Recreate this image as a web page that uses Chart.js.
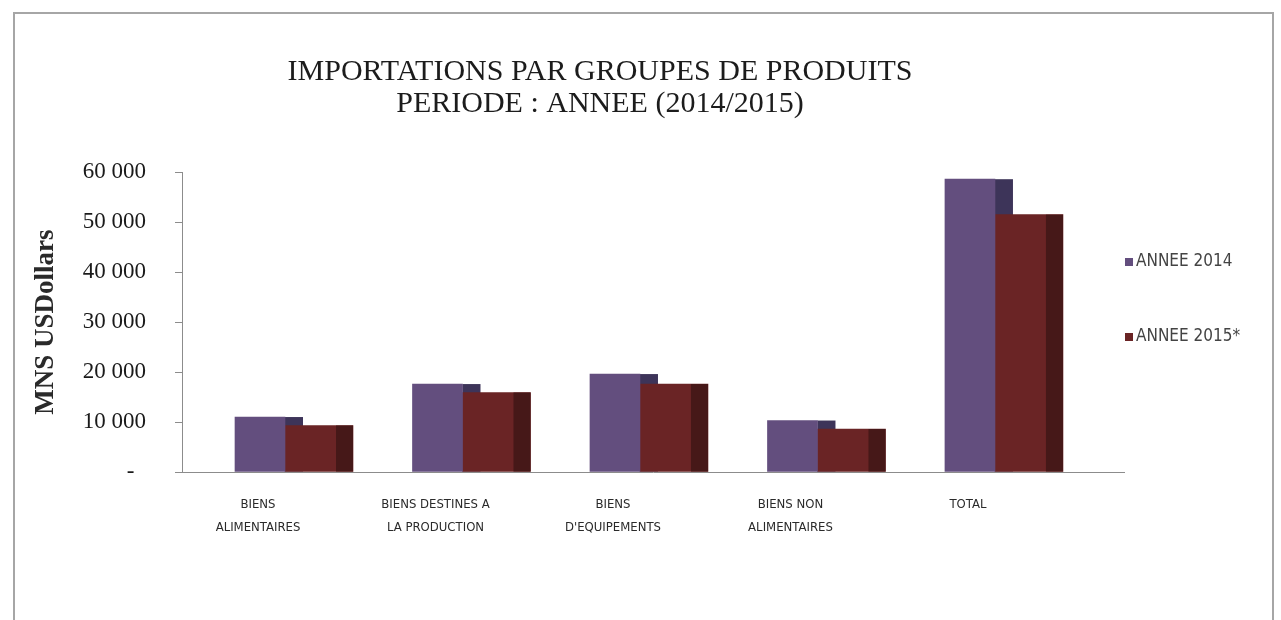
<!DOCTYPE html>
<html>
<head>
<meta charset="utf-8">
<script src="https://cdn.jsdelivr.net/npm/chart.js@4/dist/chart.umd.min.js"></script>
<style>
  html, body { margin: 0; padding: 0; background: #fff; }
  #frame { position: absolute; left: 13px; top: 12px; width: 1257px; height: 700px;
           border: 2px solid #a6a6a6; pointer-events: none; }
  canvas { position: absolute; left: 0; top: 0; }
</style>
</head>
<body>
<canvas id="chart" width="1281" height="620"></canvas>
<div id="frame"></div>
<script>
// categories (two lines each, as in the source chart)
var categories = [
  ['BIENS', 'ALIMENTAIRES'],
  ['BIENS DESTINES A', 'LA PRODUCTION'],
  ['BIENS', "D'EQUIPEMENTS"],
  ['BIENS NON', 'ALIMENTAIRES'],
  ['TOTAL']
];
var seriesNames = ['ANNEE 2014', 'ANNEE 2015*'];
var values2014 = [11000, 17600, 19600, 10300, 58600];
var values2015 = [9300, 15900, 17600, 8600, 51500];
var yTicks = [0, 10000, 20000, 30000, 40000, 50000, 60000];

var SERIF = "'Liberation Serif', 'DejaVu Serif', serif";
var NARROW = "'Liberation Sans Narrow', 'DejaVu Sans Condensed', 'Liberation Sans', sans-serif";

function fmt(v) {
  if (v === 0) return '-  ';
  return String(v).replace(/\B(?=(\d{3})+(?!\d))/g, ' ');
}

// fake 3D depth: darker strip on the right of each bar
const depth = {
  id: 'depth',
  beforeDatasetsDraw(chart) {
    const ctx = chart.ctx;
    ctx.save();
    ctx.fillStyle = '#3d3459';
    chart.getDatasetMeta(0).data.forEach(function (bar) {
      const p = bar.getProps(['x', 'y', 'base', 'width'], true);
      ctx.fillRect(p.x + p.width / 2, p.y, 18, p.base - p.y);
    });
    ctx.restore();
  },
  afterDatasetsDraw(chart) {
    const ctx = chart.ctx;
    ctx.save();
    ctx.fillStyle = '#461818';
    chart.getDatasetMeta(1).data.forEach(function (bar) {
      const p = bar.getProps(['x', 'y', 'base', 'width'], true);
      ctx.fillRect(p.x + p.width / 2 - 17, p.y, 17, p.base - p.y);
    });
    ctx.restore();
  }
};

// legend on the right, items spaced wide apart like the original
const sideLegend = {
  id: 'sideLegend',
  afterDraw(chart) {
    const ctx = chart.ctx;
    const x0 = chart.chartArea.right + 1;
    ctx.save();
    ctx.font = '17px ' + NARROW;
    ctx.textBaseline = 'middle';
    chart.data.datasets.forEach(function (ds, i) {
      const cy = 262 + i * 75;
      ctx.fillStyle = ds.backgroundColor;
      ctx.fillRect(x0, cy - 4, 8, 8);
      ctx.fillStyle = '#444';
      ctx.fillText(ds.label, x0 + 11, cy);
    });
    ctx.restore();
  }
};

const ctx = document.getElementById('chart').getContext('2d');
const myChart = new Chart(ctx, {
  type: 'bar',
  data: {
    datasets: [{
      label: seriesNames[0],
      data: values2014.map(function (v, i) { return {x: i, y: v}; }),
      backgroundColor: '#634e7e',
      barThickness: 50,
      borderWidth: 0
    }, {
      label: seriesNames[1],
      data: values2015.map(function (v, i) { return {x: i, y: v}; }),
      backgroundColor: '#6a2425',
      barThickness: 68,
      borderWidth: 0
    }]
  },
  plugins: [depth, sideLegend],
  options: {
    responsive: false,
    devicePixelRatio: 1,
    animation: false,
    layout: { padding: { left: 76, right: 157, top: 0, bottom: 21 } },
    plugins: {
      tooltip: { enabled: false },
      legend: { display: false },
      title: {
        display: true,
        text: ['IMPORTATIONS PAR GROUPES DE PRODUITS', 'PERIODE : ANNEE (2014/2015)'],
        color: '#1c1c1c',
        font: { family: SERIF, size: 30, weight: 'normal', lineHeight: 1.07 },
        padding: { top: 56, bottom: 52 }
      }
    },
    scales: {
      x: {
        type: 'linear',
        offset: false,
        min: -0.5803,
        max: 4.727,
        grid: { display: false, offset: false },
        border: { display: true, color: '#8c8c8c', width: 1 },
        ticks: {
          stepSize: 1,
          includeBounds: false,
          autoSkip: false,
          maxRotation: 0,
          minRotation: 0,
          labelOffset: -27,
          padding: 14,
          color: '#2a2a2a',
          font: { family: NARROW, size: 13, lineHeight: 1.7 },
          callback: function (v) { return categories[v] || ''; }
        },
        afterFit: function (scale) { scale.height = 127; }
      },
      y: {
        min: yTicks[0],
        max: yTicks[yTicks.length - 1],
        grid: { drawOnChartArea: false, drawTicks: true, tickLength: 7, color: '#8c8c8c' },
        border: { display: true, color: '#8c8c8c', width: 1 },
        ticks: {
          stepSize: 10000,
          padding: 29,
          color: '#1a1a1a',
          font: { family: SERIF, size: 23, weight: 'normal' },
          callback: function (v) { return fmt(v); }
        },
        title: {
          display: true,
          text: 'MNS USDollars',
          color: '#2a2a2a',
          font: { family: SERIF, size: 27, weight: 'bold', lineHeight: 1.2 },
          padding: { top: -46, bottom: 0 }
        },
        afterFit: function (scale) { scale.width = 106; }
      }
    }
  }
});
</script>
</body>
</html>
